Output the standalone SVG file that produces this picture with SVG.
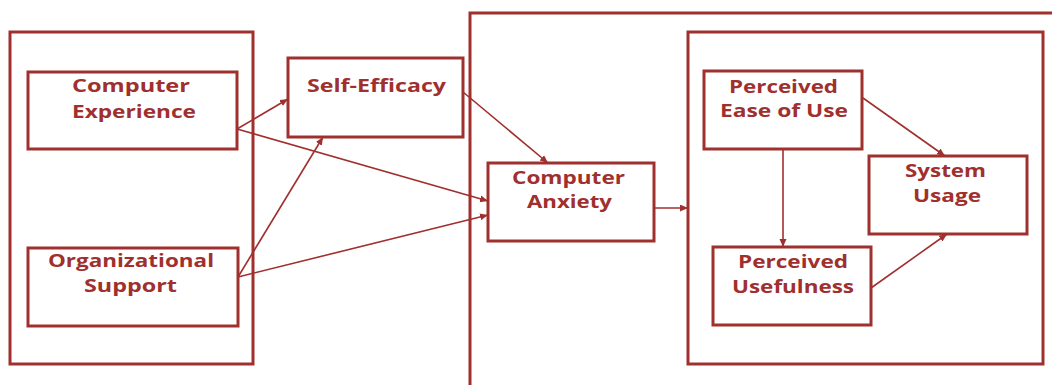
<svg xmlns="http://www.w3.org/2000/svg" width="1052" height="385" viewBox="0 0 1052 385">
  <style>
    .box { fill: none; stroke: #a0302e; stroke-width: 3; }
    .frame { fill: none; stroke: #a0302e; stroke-width: 3; }
    .lbl { font-family: "Open Sans", "Liberation Sans", sans-serif; font-weight: bold; font-size: 18px; fill: #a0302e; }
    .conn { stroke: #a0302e; stroke-width: 1.6; fill: none; marker-end: url(#arr); }
  </style>
  <defs>
    <marker id="arr" markerUnits="userSpaceOnUse" markerWidth="9" markerHeight="8" refX="8" refY="3.5" orient="auto">
      <path d="M0,0 L8,3.5 L0,7 z" fill="#a0302e"/>
    </marker>
  </defs>
  <rect width="1052" height="385" fill="#ffffff"/>

  <g id="group-left">
    <rect class="frame" x="10" y="32" width="243" height="332"/>
  </g>
  <g id="group-right">
    <rect class="frame" x="470" y="13" width="700" height="500"/>
  </g>
  <g id="group-tam">
    <rect class="frame" x="688" y="32" width="355" height="332"/>
  </g>

  <g id="node-computer-experience">
    <rect class="box" x="28" y="72" width="209" height="77"/>
    <text class="lbl" x="72" y="92" textLength="118" lengthAdjust="spacingAndGlyphs">Computer</text>
    <text class="lbl" x="72" y="118" textLength="124" lengthAdjust="spacingAndGlyphs">Experience</text>
  </g>
  <g id="node-organizational-support">
    <rect class="box" x="28" y="248" width="210" height="78"/>
    <text class="lbl" x="48" y="267" textLength="166" lengthAdjust="spacingAndGlyphs">Organizational</text>
    <text class="lbl" x="84" y="292" textLength="93" lengthAdjust="spacingAndGlyphs">Support</text>
  </g>
  <g id="node-self-efficacy">
    <rect class="box" x="288" y="58" width="175" height="79"/>
    <text class="lbl" x="307" y="92" textLength="139" lengthAdjust="spacingAndGlyphs">Self-Efficacy</text>
  </g>
  <g id="node-computer-anxiety">
    <rect class="box" x="488" y="163" width="166" height="78"/>
    <text class="lbl" x="512" y="184" textLength="113" lengthAdjust="spacingAndGlyphs">Computer</text>
    <text class="lbl" x="527" y="208" textLength="85" lengthAdjust="spacingAndGlyphs">Anxiety</text>
  </g>
  <g id="node-peou">
    <rect class="box" x="704" y="71" width="158" height="78"/>
    <text class="lbl" x="729" y="93" textLength="109" lengthAdjust="spacingAndGlyphs">Perceived</text>
    <text class="lbl" x="720" y="117" textLength="128" lengthAdjust="spacingAndGlyphs">Ease of Use</text>
  </g>
  <g id="node-system-usage">
    <rect class="box" x="869" y="156" width="158" height="78"/>
    <text class="lbl" x="905" y="177" textLength="81" lengthAdjust="spacingAndGlyphs">System</text>
    <text class="lbl" x="913" y="202" textLength="68" lengthAdjust="spacingAndGlyphs">Usage</text>
  </g>
  <g id="node-pu">
    <rect class="box" x="713" y="247" width="158" height="78"/>
    <text class="lbl" x="738" y="268" textLength="110" lengthAdjust="spacingAndGlyphs">Perceived</text>
    <text class="lbl" x="732" y="293" textLength="122" lengthAdjust="spacingAndGlyphs">Usefulness</text>
  </g>

  <g id="connectors">
    <line class="conn" x1="237" y1="129" x2="288" y2="99"/>
    <line class="conn" x1="237" y1="129" x2="488" y2="201"/>
    <line class="conn" x1="238" y1="277" x2="323" y2="137"/>
    <line class="conn" x1="238" y1="277" x2="488" y2="215"/>
    <line class="conn" x1="463" y1="92" x2="548" y2="163"/>
    <line class="conn" x1="654" y1="208" x2="688" y2="208"/>
    <line class="conn" x1="863" y1="98" x2="945" y2="156"/>
    <line class="conn" x1="783" y1="149" x2="783" y2="247"/>
    <line class="conn" x1="871" y1="288" x2="947" y2="234"/>
  </g>
</svg>
